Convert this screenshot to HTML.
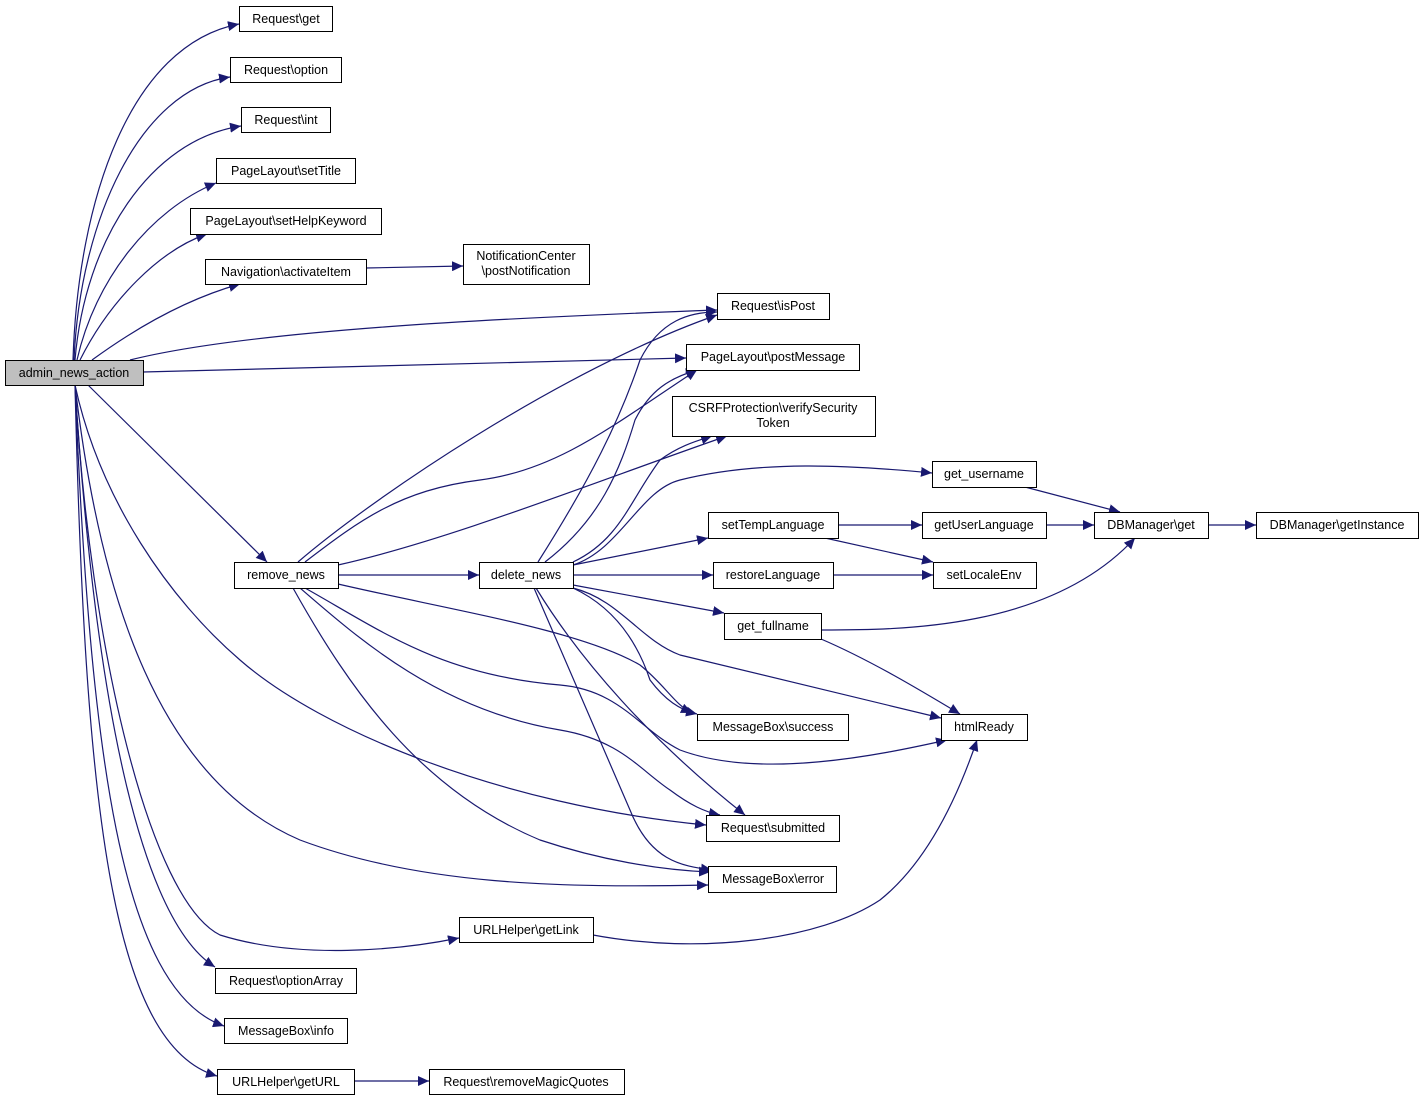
<!DOCTYPE html>
<html><head><meta charset="utf-8"><style>
html,body{margin:0;padding:0;background:#fff;}
svg{display:block;}
text{font-family:"Liberation Sans",sans-serif;font-size:12.5px;fill:#000;}
</style></head><body>
<svg width="1424" height="1101" viewBox="0 0 1424 1101" xmlns="http://www.w3.org/2000/svg">
<defs>
<marker id="a" markerUnits="userSpaceOnUse" markerWidth="12" markerHeight="10" refX="11" refY="5" orient="auto">
<path d="M0,0 L11,5 L0,10 z" fill="#191970"/>
</marker>
</defs>
<g fill="none" stroke="#191970" stroke-width="1.2" marker-end="url(#a)">
<path d="M73,360 C78,200 130,45 239,24"/>
<path d="M74,360 C80,220 140,90 230,77"/>
<path d="M75,360 C85,240 150,140 241,126"/>
<path d="M77,360 C95,280 150,210 216,183"/>
<path d="M80,360 C110,300 160,250 207,234"/>
<path d="M92,360 C140,325 190,298 240,284"/>
<path d="M366,268 L463,266"/>
<path d="M130,360 C250,330 500,318 717,310"/>
<path d="M143,372 L686,358"/>
<path d="M88,385 L267,562"/>
<path d="M298,562 C370,500 560,370 717,315"/>
<path d="M305,562 C360,520 400,490 480,480 C560,470 620,420 697,370"/>
<path d="M338,565 C450,540 600,480 727,436"/>
<path d="M338,575 L479,575"/>
<path d="M338,584 C450,610 580,630 640,665 C665,685 675,705 692,713"/>
<path d="M305,588 C380,630 440,675 560,685 C620,690 640,730 680,750 C760,780 880,755 947,740"/>
<path d="M300,588 C360,640 440,710 560,730 C620,740 640,770 670,790 C690,805 705,812 720,815"/>
<path d="M293,588 C350,690 420,790 540,840 C600,860 660,870 710,872"/>
<path d="M75,385 C100,500 170,600 240,660 C320,730 500,805 706,825"/>
<path d="M75,385 C100,600 160,780 300,840 C420,885 560,888 708,885"/>
<path d="M75,385 C90,650 150,900 220,935 C300,960 400,950 459,938"/>
<path d="M75,385 C95,700 140,920 215,967"/>
<path d="M75,385 C90,750 120,990 224,1026"/>
<path d="M75,385 C85,800 110,1045 217,1076"/>
<path d="M354,1081 L429,1081"/>
<path d="M593,935 C700,955 820,940 880,900 C930,860 960,790 977,740"/>
<path d="M538,562 C590,480 620,420 640,360 C660,320 690,312 717,312"/>
<path d="M545,562 C600,520 620,470 635,420 C650,390 670,378 697,370"/>
<path d="M573,562 C620,540 630,500 660,460 C680,445 700,440 712,436"/>
<path d="M573,565 C620,550 640,490 680,480 C760,460 850,465 932,473"/>
<path d="M573,565 L708,538"/>
<path d="M573,575 L713,575"/>
<path d="M573,585 L724,613"/>
<path d="M573,588 C620,600 640,640 680,655 L941,718"/>
<path d="M573,588 C620,610 640,650 650,680 C665,700 680,710 697,714"/>
<path d="M536,588 C580,660 650,740 745,815"/>
<path d="M534,588 C570,670 600,740 630,810 C650,860 680,866 712,870"/>
<path d="M838,525 L922,525"/>
<path d="M825,538 L933,562"/>
<path d="M833,575 L933,575"/>
<path d="M1025,487 L1120,512"/>
<path d="M1046,525 L1094,525"/>
<path d="M1208,525 L1256,525"/>
<path d="M821,630 C900,630 1050,630 1135,538"/>
<path d="M821,639 C870,660 920,690 960,714"/>
</g>
<g stroke="#000" stroke-width="1" fill="#fff">
<rect x="5.5" y="360.5" width="138" height="25" fill="#bfbfbf"/>
<rect x="239.5" y="6.5" width="93" height="25"/>
<rect x="230.5" y="57.5" width="111" height="25"/>
<rect x="241.5" y="107.5" width="89" height="25"/>
<rect x="216.5" y="158.5" width="139" height="25"/>
<rect x="190.5" y="208.5" width="191" height="26"/>
<rect x="205.5" y="259.5" width="161" height="25"/>
<rect x="463.5" y="244.5" width="126" height="40"/>
<rect x="717.5" y="293.5" width="112" height="26"/>
<rect x="686.5" y="344.5" width="173" height="26"/>
<rect x="672.5" y="396.5" width="203" height="40"/>
<rect x="932.5" y="461.5" width="104" height="26"/>
<rect x="708.5" y="512.5" width="130" height="26"/>
<rect x="922.5" y="512.5" width="124" height="26"/>
<rect x="1094.5" y="512.5" width="114" height="26"/>
<rect x="1256.5" y="512.5" width="162" height="26"/>
<rect x="234.5" y="562.5" width="104" height="26"/>
<rect x="479.5" y="562.5" width="94" height="26"/>
<rect x="713.5" y="562.5" width="120" height="26"/>
<rect x="933.5" y="562.5" width="103" height="26"/>
<rect x="724.5" y="613.5" width="97" height="26"/>
<rect x="941.5" y="714.5" width="86" height="26"/>
<rect x="697.5" y="714.5" width="151" height="26"/>
<rect x="706.5" y="815.5" width="133" height="26"/>
<rect x="708.5" y="866.5" width="128" height="26"/>
<rect x="459.5" y="917.5" width="134" height="25"/>
<rect x="215.5" y="968.5" width="141" height="25"/>
<rect x="224.5" y="1018.5" width="123" height="25"/>
<rect x="217.5" y="1069.5" width="137" height="25"/>
<rect x="429.5" y="1069.5" width="195" height="25"/>
</g>
<g text-anchor="middle">
<text x="74" y="377">admin_news_action</text>
<text x="286" y="23">Request\get</text>
<text x="286" y="74">Request\option</text>
<text x="286" y="124">Request\int</text>
<text x="286" y="175">PageLayout\setTitle</text>
<text x="286" y="225">PageLayout\setHelpKeyword</text>
<text x="286" y="276">Navigation\activateItem</text>
<text x="526" y="260">NotificationCenter</text>
<text x="526" y="275">\postNotification</text>
<text x="773" y="310">Request\isPost</text>
<text x="773" y="361">PageLayout\postMessage</text>
<text x="773" y="412">CSRFProtection\verifySecurity</text>
<text x="773" y="427">Token</text>
<text x="984" y="478">get_username</text>
<text x="773" y="529">setTempLanguage</text>
<text x="984" y="529">getUserLanguage</text>
<text x="1151" y="529">DBManager\get</text>
<text x="1337" y="529">DBManager\getInstance</text>
<text x="286" y="579">remove_news</text>
<text x="526" y="579">delete_news</text>
<text x="773" y="579">restoreLanguage</text>
<text x="984" y="579">setLocaleEnv</text>
<text x="773" y="630">get_fullname</text>
<text x="984" y="731">htmlReady</text>
<text x="773" y="731">MessageBox\success</text>
<text x="773" y="832">Request\submitted</text>
<text x="773" y="883">MessageBox\error</text>
<text x="526" y="934">URLHelper\getLink</text>
<text x="286" y="985">Request\optionArray</text>
<text x="286" y="1035">MessageBox\info</text>
<text x="286" y="1086">URLHelper\getURL</text>
<text x="526" y="1086">Request\removeMagicQuotes</text>
</g>
</svg>
</body></html>
